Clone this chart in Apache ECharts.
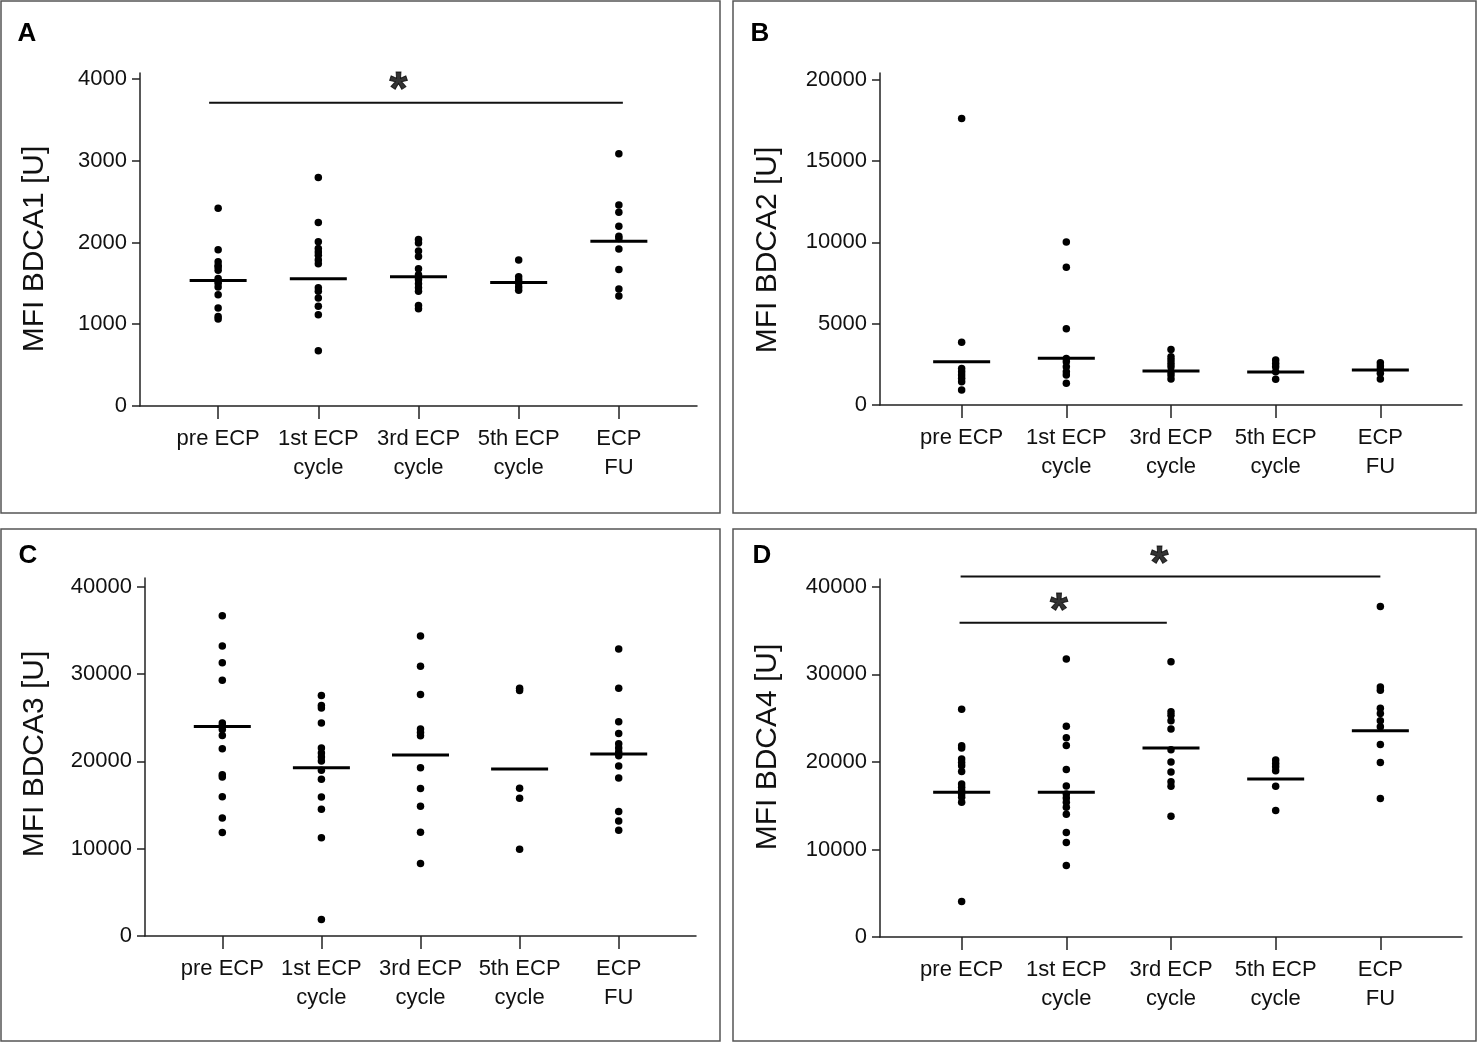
<!DOCTYPE HTML>
<HTML>

<head>
    <meta charset="utf-8">
    <title>MFI BDCA1-4</title>
    <script src="https://cdn.jsdelivr.net/npm/echarts@6/dist/echarts.min.js"></script>
    <style>
        body { margin: 0; background: #fff; }
    </style>
</head>

<body>
    <div id="result" style="width:1477px;height:1043px;"></div>
    <script>
        // 横轴分组
        var groups = ['pre ECP', '1st ECP\ncycle', '3rd ECP\ncycle', '5th ECP\ncycle', 'ECP\nFU'];

        // A: MFI BDCA1
        var preA = [2420, 1910, 1765, 1720, 1700, 1660, 1560, 1530, 1500, 1455, 1360, 1200, 1095, 1065];
        var c1A = [2795, 2245, 2010, 1925, 1885, 1845, 1785, 1740, 1445, 1405, 1320, 1220, 1115, 675];
        var c3A = [2035, 1995, 1895, 1830, 1680, 1605, 1570, 1545, 1495, 1445, 1405, 1230, 1190];
        var c5A = [1785, 1580, 1540, 1500, 1455, 1415];
        var fuA = [3085, 2460, 2370, 2200, 2075, 2050, 1920, 1670, 1430, 1345];
        var medA = [1535, 1555, 1580, 1510, 2015];

        // B: MFI BDCA2
        var preB = [17600, 3850, 2250, 2050, 1840, 1640, 1430, 920];
        var c1B = [10020, 8470, 4680, 2860, 2660, 2350, 2040, 1840, 1330];
        var c3B = [3415, 2965, 2760, 2555, 2350, 2045, 1840, 1595];
        var c5B = [2760, 2555, 2350, 2045, 1575];
        var fuB = [2600, 2395, 2190, 1945, 1595];
        var medB = [2660, 2865, 2085, 2025, 2145];

        // C: MFI BDCA3
        var preC = [36690, 33220, 31280, 29300, 24380, 24040, 23660, 22970, 21450, 18480, 18210, 15960, 13520, 11850];
        var c1C = [27540, 26400, 26100, 24380, 21520, 20950, 20500, 20040, 18970, 17940, 15920, 14510, 11240, 1900];
        var c3C = [34360, 30900, 27660, 23700, 23310, 22930, 19280, 16880, 14860, 11890, 8300];
        var c5C = [28380, 28110, 16910, 15770, 9940];
        var fuC = [32880, 28380, 24530, 23200, 22020, 21520, 21070, 20650, 19470, 18100, 14250, 13180, 12110];
        var medC = [24000, 19280, 20720, 19120, 20840];

        // D: MFI BDCA4
        var preD = [26030, 21850, 21580, 20330, 19940, 19570, 18920, 17480, 17100, 16720, 16340, 15960, 15390, 4070];
        var c1D = [31760, 24090, 22760, 21880, 19150, 17250, 16340, 15880, 15390, 14820, 14020, 11930, 10790, 8170];
        var c3D = [31450, 25720, 25340, 24700, 23750, 21390, 19980, 18850, 17740, 17210, 13790];
        var c5D = [20210, 19830, 19450, 19000, 17210, 14440];
        var fuD = [37770, 28570, 28190, 26140, 25530, 24700, 24010, 22000, 19940, 15810];
        var medD = [16530, 16530, 21580, 18050, 23560];

        // 纵轴刻度
        var ticksA = [0, 1000, 2000, 3000, 4000];
        var ticksB = [0, 5000, 10000, 15000, 20000];
        var ticksC = [0, 10000, 20000, 30000, 40000];
        var ticksD = [0, 10000, 20000, 30000, 40000];

        // 显著性标记: 起点, 终点 (横轴单位), 高度, 星号位置
        var sigA = [[-0.09, 4.04, 3709, 1.80]];
        var sigD = [[-0.01, 4.0, 41180, 1.89], [-0.02, 1.96, 35890, 0.93]];

        var FONT = '"Liberation Sans", Arial, sans-serif';
        var INK = '#111';

        var panels = [
            { key: 'A', title: 'MFI BDCA1 [U]', groups: [preA, c1A, c3A, c5A, fuA], med: medA, ticks: ticksA, max: 4073, sig: sigA,
              grid: { left: 140, top: 73, width: 557, height: 333 }, letter: [27, 34], name: [35, 249] },
            { key: 'B', title: 'MFI BDCA2 [U]', groups: [preB, c1B, c3B, c5B, fuB], med: medB, ticks: ticksB, max: 20400, sig: [],
              grid: { left: 880, top: 73, width: 582, height: 332 }, letter: [760, 34], name: [768, 250] },
            { key: 'C', title: 'MFI BDCA3 [U]', groups: [preC, c1C, c3C, c5C, fuC], med: medC, ticks: ticksC, max: 41000, sig: [],
              grid: { left: 145, top: 578, width: 551, height: 358 }, letter: [28, 556], name: [35, 754] },
            { key: 'D', title: 'MFI BDCA4 [U]', groups: [preD, c1D, c3D, c5D, fuD], med: medD, ticks: ticksD, max: 40900, sig: sigD,
              grid: { left: 880, top: 579, width: 582, height: 358 }, letter: [762, 556], name: [768, 747] }
        ];

        var boxes = [[1, 1, 719, 512], [733, 1, 743, 512], [1, 529, 719, 512], [733, 529, 743, 512]];

        var grids = [], xAxes = [], yAxes = [], series = [], graphics = [];

        panels.forEach(function(p, k) {
            grids.push(p.grid);
            xAxes.push({
                type: 'value', gridIndex: k, min: -0.78, max: 4.78,
                splitLine: { show: false },
                axisLine: { show: true, onZero: false, lineStyle: { color: '#222', width: 1.5 } },
                axisTick: { show: true, customValues: [0, 1, 2, 3, 4], length: 13, lineStyle: { color: '#222', width: 1.5 } },
                axisLabel: {
                    customValues: [0, 1, 2, 3, 4], margin: 18,
                    formatter: function(v) { return groups[Math.round(v)]; },
                    fontSize: 22, lineHeight: 29, color: INK, fontFamily: FONT
                }
            });
            yAxes.push({
                type: 'value', gridIndex: k, min: 0, max: p.max,
                splitLine: { show: false },
                axisLine: { show: true, onZero: false, lineStyle: { color: '#222', width: 1.5 } },
                axisTick: { show: true, customValues: p.ticks, length: 8, lineStyle: { color: '#222', width: 1.5 } },
                axisLabel: {
                    customValues: p.ticks, margin: 13, fontSize: 22, color: INK, fontFamily: FONT,
                    formatter: function(v) { return String(v); }
                }
            });

            // 散点
            var pts = [];
            p.groups.forEach(function(vals, i) {
                vals.forEach(function(v) { pts.push([i, v]); });
            });
            series.push({
                type: 'scatter', xAxisIndex: k, yAxisIndex: k, data: pts,
                symbol: 'circle', symbolSize: 7.5, itemStyle: { color: '#000', opacity: 1 }, silent: true
            });

            // 中位数横线
            series.push({
                type: 'scatter', xAxisIndex: k, yAxisIndex: k,
                data: p.med.map(function(v, i) { return [i, v]; }),
                symbol: 'rect', symbolSize: [57, 3], itemStyle: { color: '#000', opacity: 1 }, silent: true, z: 3
            });

            // 显著性横线 + 星号
            p.sig.forEach(function(s) {
                series.push({
                    type: 'line', xAxisIndex: k, yAxisIndex: k, clip: false, silent: true,
                    data: [[s[0], s[2]], [s[1], s[2]]],
                    symbol: 'none', lineStyle: { color: INK, width: 2 }
                });
                series.push({
                    type: 'scatter', xAxisIndex: k, yAxisIndex: k, clip: false, silent: true,
                    data: [[s[3], s[2]]], symbolSize: 1, itemStyle: { color: 'rgba(0,0,0,0)' },
                    label: {
                        show: true, position: 'inside', formatter: '*', offset: [0, -11],
                        fontSize: 46, fontWeight: 'bold', color: '#000', fontFamily: FONT,
                        textBorderColor: '#000', textBorderWidth: 1
                    }
                });
            });

            graphics.push({
                type: 'text', x: p.letter[0], y: p.letter[1],
                style: { text: p.key, font: 'bold 26px ' + FONT, fill: '#000', align: 'center', verticalAlign: 'middle' }
            });
            graphics.push({
                type: 'text', x: p.name[0], y: p.name[1], rotation: Math.PI / 2,
                style: { text: p.title, font: '30px ' + FONT, fill: INK, align: 'center', verticalAlign: 'middle' }
            });
        });

        boxes.forEach(function(b) {
            graphics.push({
                type: 'rect', shape: { x: b[0], y: b[1], width: b[2], height: b[3] }, silent: true,
                style: { fill: 'none', stroke: '#555', lineWidth: 1.5 }
            });
        });

        var myChart = echarts.init(document.getElementById('result'));
        myChart.setOption({
            backgroundColor: '#fff',
            animation: false,
            grid: grids,
            xAxis: xAxes,
            yAxis: yAxes,
            series: series,
            graphic: graphics
        });
    </script>
</body>

</HTML>
